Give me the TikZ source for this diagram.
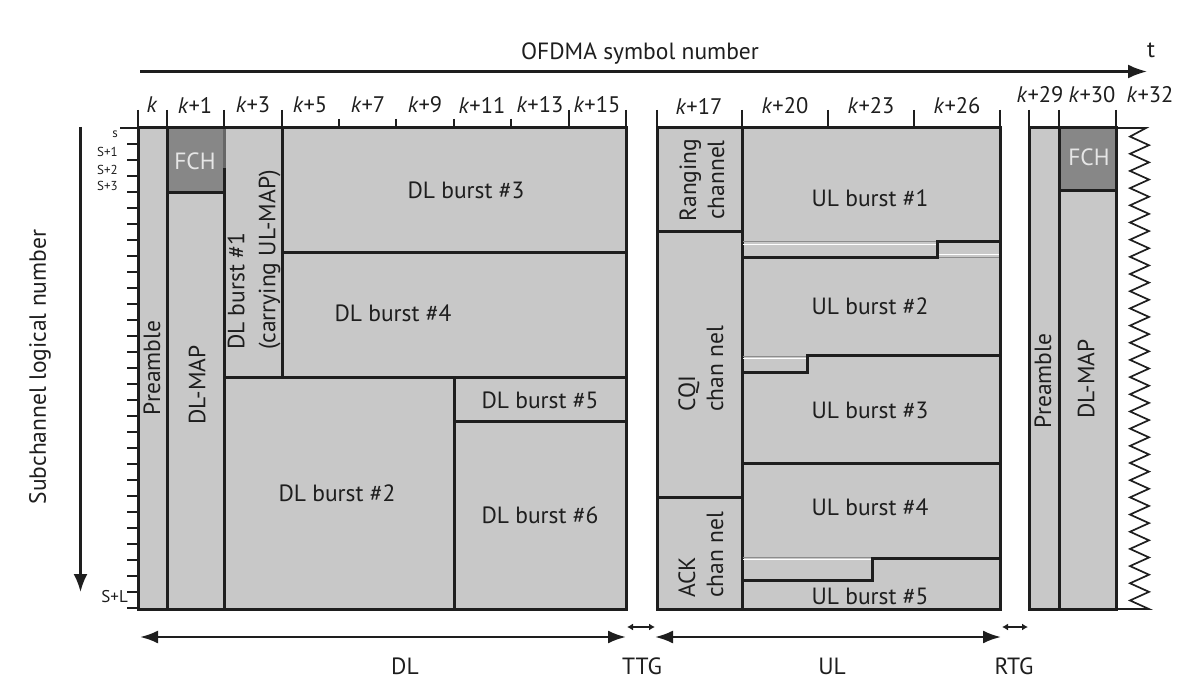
\documentclass[tikz,border=0pt]{standalone}
\usepackage{fontspec}
\setmainfont{PT Sans}
\usetikzlibrary{arrows.meta}
\definecolor{ink}{HTML}{1E1E1E}
\definecolor{cellgray}{HTML}{C8C8C8}
\definecolor{fchgray}{HTML}{878787}
\definecolor{fchtext}{HTML}{E6E6E6}
\definecolor{seamgray}{HTML}{8C8C8C}
\newcommand\kk{\textit{k}}
\begin{document}
\begin{tikzpicture}[x=1pt,y=-1pt,
  lbl/.style={font=\fontsize{23.5}{28}\selectfont, text=ink, inner sep=0pt},
  vlbl/.style={lbl, rotate=90},
  ticklbl/.style={font=\fontsize{22.5}{26}\selectfont, text=ink, inner sep=0pt},
  rowlbl/.style={font=\fontsize{13}{15}\selectfont, text=ink, inner sep=0pt, anchor=east},
  cellbox/.style={draw=ink, line width=3pt, fill=cellgray},
  fchbox/.style={draw=ink, line width=3pt, fill=fchgray},
  rulethick/.style={draw=ink, line width=3pt},
  tickmark/.style={draw=ink, line width=2.4pt},
  seamline/.style={draw=seamgray, line width=1pt},
  seamwhite/.style={draw=white, line width=1pt},
  axisarrow/.style={draw=ink, line width=2.4pt, -{Latex[length=19pt,width=14pt]}},
  dimarrow/.style={draw=ink, line width=2.4pt, {Latex[length=18pt,width=13pt]}-{Latex[length=18pt,width=13pt]}},
  gaparrow/.style={draw=ink, line width=1.6pt, {Latex[length=6pt,width=7pt]}-{Latex[length=6pt,width=7pt]}},
]
\useasboundingbox (0,0) rectangle (1194,698);

% ---------- time axis ----------
\coordinate (tA) at (140,71.5);
\coordinate (tB) at (1147,71.5);
\draw[axisarrow] (tA) -- (tB);
\node[lbl] (ofdma) at (640,54) {OFDMA symbol number};
\node[lbl] (tlbl) at (1151,50) {t};

% ---------- subchannel axis ----------
\coordinate (sA) at (80.5,127);
\coordinate (sB) at (80.5,592);
\draw[draw=ink, line width=2.4pt, -{Latex[length=18pt,width=14pt]}] (sA) -- (sB);
\node[lbl, rotate=90] (subch) at (40,367) {Subchannel logical number};

% ---------- downlink subframe ----------
\path[cellbox] (138,128) rectangle (167,609);
\path[fchbox]  (167,128) rectangle (224,192);
\path[cellbox] (167,192) rectangle (224,609);
\path[cellbox] (224,128) rectangle (282,377);
\path[cellbox] (282,128) rectangle (626,252);
\path[cellbox] (282,252) rectangle (626,377);
\path[cellbox] (224,377) rectangle (454,609);
\path[cellbox] (454,377) rectangle (626,421);
\path[cellbox] (454,421) rectangle (626,609);
\draw[draw=fchgray!70!ink, line width=3pt] (224,129.5) -- (224,168);

\node[vlbl] (pre1) at (152,368) {Preamble};
\node[lbl, text=fchtext] (fch1) at (195,161) {FCH};
\node[vlbl] (map1) at (197,385) {DL-MAP};
\node[vlbl, align=left, anchor=west, font=\fontsize{23.5}{31}\selectfont] (dl1) at (254,350) {DL burst \#1\\(carrying UL-MAP)};
\node[lbl] (dl3) at (466,190) {DL burst \#3};
\node[lbl] (dl4) at (393,313) {DL burst \#4};
\node[lbl] (dl2) at (337,493) {DL burst \#2};
\node[lbl] (dl5) at (540,400) {DL burst \#5};
\node[lbl] (dl6) at (540,515) {DL burst \#6};

% ---------- uplink subframe ----------
\path[cellbox] (657,128) rectangle (742,231);
\path[cellbox] (657,231) rectangle (742,497);
\path[cellbox] (657,497) rectangle (742,609);
\path[cellbox] (742,128) rectangle (1000,609);
% seams left by the slot-wise allocation
\draw[seamline]  (743,241.5) -- (937,241.5);
\draw[seamwhite] (743,244)   -- (937,244);
\draw[seamwhite] (938,254.5) -- (999,254.5);
\draw[seamline]  (938,257)   -- (999,257);
\draw[seamline]  (743,356)   -- (807,356);
\draw[seamwhite] (743,358.5) -- (807,358.5);
\draw[seamline]  (743,557)   -- (872,557);
\draw[seamwhite] (743,559.5) -- (872,559.5);
% burst boundaries
\draw[rulethick] (742,257) -- (937,257) -- (937,241) -- (1000,241);
\draw[rulethick] (742,372) -- (807,372) -- (807,355) -- (1000,355);
\draw[rulethick] (742,463) -- (1000,463);
\draw[rulethick] (742,580) -- (872,580) -- (872,558) -- (1000,558);

\node[vlbl, align=center] (rng) at (702,180) {Ranging\\channel};
\node[vlbl, align=left, anchor=west] (cqi) at (701,412) {CQI\\chan nel};
\node[vlbl, align=left, anchor=west] (ack) at (701,598) {ACK\\chan nel};
\node[lbl] (ul1) at (870,198) {UL burst \#1};
\node[lbl] (ul2) at (870,306) {UL burst \#2};
\node[lbl] (ul3) at (870,410) {UL burst \#3};
\node[lbl] (ul4) at (870,507) {UL burst \#4};
\node[lbl] (ul5) at (870,596) {UL burst \#5};

% ---------- next frame ----------
\path[cellbox] (1029,128) rectangle (1059,609);
\path[fchbox]  (1059,128) rectangle (1116,190);
\path[cellbox] (1059,190) rectangle (1116,609);
\node[vlbl] (pre2) at (1043,381) {Preamble};
\node[lbl, text=fchtext] (fch2) at (1089,157) {FCH};
\node[vlbl] (map2) at (1086,379) {DL-MAP};
\draw[draw=ink, line width=1.7pt, line join=miter] (1116,128) -- (1146,128)
  \foreach \i in {0,...,27} { -- (1130,{128+17.18*(\i+0.5)}) -- (1149,{128+17.18*(\i+1)}) }
  -- (1116,609);

% ---------- symbol ticks ----------
\foreach \x in {138,167,224,282,569,626,657,742,828,914,1000,1029,1059,1116}
  \draw[tickmark] (\x,110) -- (\x,128);
\foreach \x in {339,396,454,511}
  \draw[tickmark] (\x,119) -- (\x,128);
\node[ticklbl] (s0)  at (152,105) {\kk};
\node[ticklbl] (s1)  at (195,105) {\kk+1};
\node[ticklbl] (s3)  at (253,105) {\kk+3};
\node[ticklbl] (s5)  at (310,105) {\kk+5};
\node[ticklbl] (s7)  at (368,105) {\kk+7};
\node[ticklbl] (s9)  at (425,105) {\kk+9};
\node[ticklbl] (s11) at (482,105) {\kk+11};
\node[ticklbl] (s13) at (540,105) {\kk+13};
\node[ticklbl] (s15) at (597,105) {\kk+15};
\node[ticklbl] (s17) at (699,106) {\kk+17};
\node[ticklbl] (s20) at (785,106) {\kk+20};
\node[ticklbl] (s23) at (871,106) {\kk+23};
\node[ticklbl] (s26) at (957,106) {\kk+26};
\node[ticklbl] (s29) at (1040,95) {\kk+29};
\node[ticklbl] (s30) at (1092,95) {\kk+30};
\node[ticklbl] (s32) at (1150,95) {\kk+32};

% ---------- subchannel ticks ----------
\draw[tickmark] (120,128) -- (138,128);
\foreach \i in {1,...,30}
  \draw[tickmark] (127,{128+16*\i}) -- (138,{128+16*\i});
\node[rowlbl] (r0) at (118,134) {s};
\node[rowlbl] (r1) at (118,152) {S+1};
\node[rowlbl] (r2) at (118,170) {S+2};
\node[rowlbl] (r3) at (118,186) {S+3};
\node[rowlbl, font=\fontsize{17}{19}\selectfont] (rL) at (128,597) {S+L};

% ---------- subframe extents ----------
\coordinate (dlA) at (140,637);  \coordinate (dlB) at (626,637);
\coordinate (ttA) at (627,627);  \coordinate (ttB) at (655,627);
\coordinate (ulA) at (655,637);  \coordinate (ulB) at (1001,637);
\coordinate (rtA) at (1002,627); \coordinate (rtB) at (1028,627);
\draw[dimarrow] (dlA) -- (dlB);
\draw[gaparrow] (ttA) -- (ttB);
\draw[dimarrow] (ulA) -- (ulB);
\draw[gaparrow] (rtA) -- (rtB);
\node[lbl] (dl)  at (405,666) {DL};
\node[lbl] (ttg) at (642,666) {TTG};
\node[lbl] (ul)  at (832,666) {UL};
\node[lbl] (rtg) at (1014,666) {RTG};
\end{tikzpicture}
\end{document}
